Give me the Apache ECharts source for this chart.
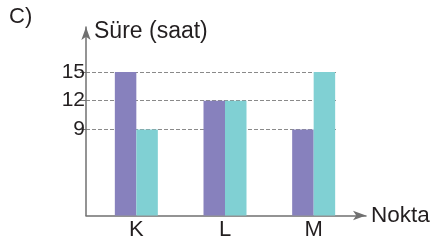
<!DOCTYPE html>
<html>
<head>
<meta charset="utf-8">
<script src="https://cdn.jsdelivr.net/npm/echarts@6/dist/echarts.min.js"></script>
<style>
html,body{margin:0;padding:0;background:#fff;}
#chart{width:431px;height:240px;}
</style>
</head>
<body>
<div id="chart"></div>
<script>
var categories = ['K', 'L', 'M'];
var seriesA = [15, 12, 9];
var seriesB = [9, 12, 15];
var yTicks = [9, 12, 15];
var panelLabel = 'C)';
var yName = 'Süre (saat)';
var xName = 'Nokta';

var FONT = '"Liberation Sans", Arial, Helvetica, sans-serif';
var AXIS = '#707070';
var TEXT = '#231f20';

var chart = echarts.init(document.getElementById('chart'), null, {renderer: 'canvas'});
chart.setOption({
  animation: false,
  backgroundColor: '#ffffff',
  textStyle: {fontFamily: FONT},
  title: [
    {text: panelLabel, left: 9, top: 6, padding: 0,
     textStyle: {fontFamily: FONT, fontSize: 22, fontWeight: 'normal', color: TEXT}},
    {text: yName, left: 94, top: 20, padding: 0,
     textStyle: {fontFamily: FONT, fontSize: 23, fontWeight: 'normal', color: TEXT}}
  ],
  grid: [
    {left: 92, right: 73, top: 72, bottom: 24.5, outerBoundsMode: 'none', containLabel: false},
    {left: 86, right: 65, top: 27, bottom: 24.5, outerBoundsMode: 'none', containLabel: false},
    {left: 86, right: 95, top: 72, bottom: 110.6, outerBoundsMode: 'none', containLabel: false}
  ],
  xAxis: [
    {gridIndex: 0, type: 'category', data: categories,
     axisLine: {show: false}, axisTick: {show: false},
     axisLabel: {fontFamily: FONT, fontSize: 22, color: TEXT, margin: 3},
     splitLine: {show: false}},
    {gridIndex: 1, type: 'value', min: 0, max: 1,
     name: xName, nameLocation: 'end', nameGap: 5,
     nameTextStyle: {fontFamily: FONT, fontSize: 22.5, color: TEXT, padding: [0, 0, 9, 0]},
     axisLine: {show: true, lineStyle: {color: AXIS, width: 1.5}, symbol: ['none', 'arrow'], symbolSize: [7, 13]},
     axisTick: {show: false}, axisLabel: {show: false}, splitLine: {show: false}},
    {gridIndex: 2, type: 'value', min: 0, max: 1, show: false}
  ],
  yAxis: [
    {gridIndex: 0, type: 'value', min: 0, max: 15, show: false},
    {gridIndex: 1, type: 'value', min: 0, max: 1,
     axisLine: {show: true, lineStyle: {color: AXIS, width: 1.5}, symbol: ['none', 'arrow'], symbolSize: [7, 13]},
     axisTick: {show: false}, axisLabel: {show: false}, splitLine: {show: false}},
    {gridIndex: 2, type: 'value', min: yTicks[0], max: yTicks[yTicks.length - 1], interval: yTicks[1] - yTicks[0],
     axisLine: {show: false},
     axisTick: {show: true, length: 6, lineStyle: {color: AXIS, width: 1}},
     axisLabel: {fontFamily: FONT, fontSize: 21, color: TEXT, margin: 1},
     splitLine: {show: true, lineStyle: {color: '#8a8a8a', width: 1, type: [4, 2]}}}
  ],
  series: [
    {type: 'bar', xAxisIndex: 0, yAxisIndex: 0, data: seriesA,
     barWidth: 21.5, barGap: '0%', itemStyle: {color: '#8781bd'}, z: 5},
    {type: 'bar', xAxisIndex: 0, yAxisIndex: 0, data: seriesB,
     barWidth: 21.5, barGap: '0%', itemStyle: {color: '#80d0d3'}, z: 5}
  ]
});
</script>
</body>
</html>
